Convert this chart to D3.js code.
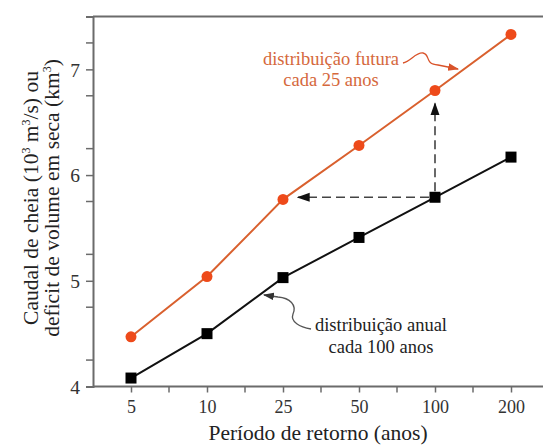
<!DOCTYPE html>
<html>
<head>
<meta charset="utf-8">
<script src="https://cdn.jsdelivr.net/npm/d3@7"></script>
<style>
  body { margin: 0; background: #fff; }
  svg text { font-family: "Liberation Serif", "DejaVu Serif", serif; }
</style>
</head>
<body>
<div id="chart"></div>
<script>
// Périodes de retour (catégories) et valeurs
const periodos = ["5", "10", "25", "50", "100", "200"];
const futura = [4.47, 5.04, 5.77, 6.28, 6.80, 7.33];
const anual = [4.08, 4.50, 5.03, 5.41, 5.79, 6.17];
const yTicks = [4, 5, 6, 7];

const w = 543;
const h = 446;
const mLeft = 93, mTop = 16.5, mBottom = 386.5;
const serif = "'Liberation Serif', 'Times New Roman', serif";

const svg = d3.select("#chart").append("svg")
  .attr("width", w)
  .attr("height", h)
  .attr("font-family", serif);

const x = d3.scalePoint()
  .domain(periodos)
  .range([mLeft, mLeft + 76 * 6])
  .padding(0.5);

const y = d3.scaleLinear()
  .domain([4, 7.5])
  .range([mBottom, mTop]);

const axisColor = "#6b6b6b";

// moldura superior (cortada à direita como no original)
svg.append("line")
  .attr("x1", mLeft).attr("x2", w)
  .attr("y1", mTop).attr("y2", mTop)
  .attr("stroke", axisColor).attr("stroke-width", 2);

// eixo Y
const yAxis = svg.append("g")
  .attr("transform", `translate(${mLeft},0)`)
  .call(d3.axisLeft(y).tickValues(yTicks).tickFormat(d3.format("d")).tickSize(7).tickPadding(6));
// ticks menores
svg.append("g").selectAll("line")
  .data(d3.range(4.25, 7.5, 0.5))
  .join("line")
  .attr("x1", mLeft - 7).attr("x2", mLeft)
  .attr("y1", d => y(d)).attr("y2", d => y(d))
  .attr("stroke", axisColor).attr("stroke-width", 1.5);

// eixo X
const xAxis = svg.append("g")
  .attr("transform", `translate(0,${mBottom})`)
  .call(d3.axisBottom(x).tickSize(6).tickPadding(8));
const step = x.step();
svg.append("g").selectAll("line")
  .data(periodos)
  .join("line")
  .attr("x1", d => x(d) + step / 2).attr("x2", d => x(d) + step / 2)
  .attr("y1", mBottom).attr("y2", mBottom + 6)
  .attr("stroke", axisColor).attr("stroke-width", 1.5);

[yAxis, xAxis].forEach(g => {
  g.attr("font-family", serif);
  g.select(".domain").attr("stroke", axisColor).attr("stroke-width", 2);
  g.selectAll(".tick line").attr("stroke", axisColor).attr("stroke-width", 1.5);
  g.selectAll(".tick text")
    .attr("fill", "#333")
    .style("font-family", serif)
    .style("font-size", "18px");
});
yAxis.selectAll(".tick text").style("font-size", "19.5px").attr("dy", "0.35em");
xAxis.select(".domain").attr("d", `M${mLeft},0H${w}`);

// setas para as anotações
const defs = svg.append("defs");
function arrowMarker(id, color, size) {
  defs.append("marker")
    .attr("id", id)
    .attr("viewBox", "0 0 10 10")
    .attr("refX", 9).attr("refY", 5)
    .attr("markerWidth", size).attr("markerHeight", size)
    .attr("markerUnits", "userSpaceOnUse")
    .attr("orient", "auto")
    .append("path")
    .attr("d", "M0,1.5L10,5L0,8.5Z")
    .attr("fill", color);
}
arrowMarker("seta", "#111", 13);
arrowMarker("setaLaranja", "#d9532a", 11);
arrowMarker("setaCinza", "#333", 11);

// linhas tracejadas: de anual(100) para futura(25) e futura(100)
const x100 = x("100"), y100 = y(anual[4]);
svg.append("line")
  .attr("x1", x100 - 6).attr("y1", y100)
  .attr("x2", x("25") + 15).attr("y2", y100)
  .attr("stroke", "#444").attr("stroke-width", 1.6)
  .attr("stroke-dasharray", "9,5")
  .attr("marker-end", "url(#seta)");
svg.append("line")
  .attr("x1", x100).attr("y1", y100 - 6)
  .attr("x2", x100).attr("y2", y(futura[4]) + 13)
  .attr("stroke", "#444").attr("stroke-width", 1.6)
  .attr("stroke-dasharray", "9,5")
  .attr("marker-end", "url(#seta)");

// séries
const line = d3.line()
  .x((d, i) => x(periodos[i]))
  .y(d => y(d));

svg.append("path")
  .datum(anual)
  .attr("d", line)
  .attr("fill", "none")
  .attr("stroke", "#111")
  .attr("stroke-width", 2);

svg.append("path")
  .datum(futura)
  .attr("d", line)
  .attr("fill", "none")
  .attr("stroke", "#d9602e")
  .attr("stroke-width", 2);

svg.append("g").selectAll("rect")
  .data(anual)
  .join("rect")
  .attr("x", (d, i) => x(periodos[i]) - 5.5)
  .attr("y", d => y(d) - 5.5)
  .attr("width", 11).attr("height", 11)
  .attr("fill", "#000");

svg.append("g").selectAll("circle")
  .data(futura)
  .join("circle")
  .attr("cx", (d, i) => x(periodos[i]))
  .attr("cy", d => y(d))
  .attr("r", 5.5)
  .attr("fill", "#ee4a1a");

function label(txt, px, py, color, size) {
  return svg.append("text")
    .attr("x", px).attr("y", py)
    .attr("text-anchor", "middle")
    .attr("fill", color)
    .style("font-family", serif)
    .style("font-size", size)
    .text(txt);
}

// anotação da distribuição futura
label("distribuição futura", 331, 65, "#d5683c", "18.5px");
label("cada 25 anos", 331, 86, "#d5683c", "18.5px");
svg.append("path")
  .attr("d", "M403,63 C411,61 416,52 423,53 C431,55 424,64 438,65 L458,69")
  .attr("fill", "none")
  .attr("stroke", "#d9532a")
  .attr("stroke-width", 1.3)
  .attr("marker-end", "url(#setaLaranja)");

// anotação da distribuição anual
label("distribuição anual", 381, 331, "#222", "18.5px");
label("cada 100 anos", 381, 353, "#222", "18.5px");
svg.append("path")
  .attr("d", "M311,329 C300,327 290,322 293,314 C297,305 290,298 278,297 L264,295")
  .attr("fill", "none")
  .attr("stroke", "#555")
  .attr("stroke-width", 1.3)
  .attr("marker-end", "url(#setaCinza)");

// título do eixo X
label("Período de retorno (anos)", 318, 440, "#222", "21.5px");

// título do eixo Y (duas linhas, com expoentes)
const yTitle = svg.append("text")
  .attr("transform", "translate(38,198) rotate(-90)")
  .attr("text-anchor", "middle")
  .attr("fill", "#222")
  .style("font-family", serif)
  .style("font-size", "21.5px");
const l1 = yTitle.append("tspan").attr("x", 0).attr("y", 0);
l1.append("tspan").text("Caudal de cheia (10");
l1.append("tspan").attr("dy", -8).style("font-size", "12px").text("3");
l1.append("tspan").attr("dy", 8).text(" m");
l1.append("tspan").attr("dy", -8).style("font-size", "12px").text("3");
l1.append("tspan").attr("dy", 8).text("/s) ou");
const l2 = yTitle.append("tspan").attr("x", 0).attr("y", 21);
l2.append("tspan").text("deficit de volume em seca (km");
l2.append("tspan").attr("dy", -8).style("font-size", "12px").text("3");
l2.append("tspan").attr("dy", 8).text(")");
</script>
</body>
</html>
